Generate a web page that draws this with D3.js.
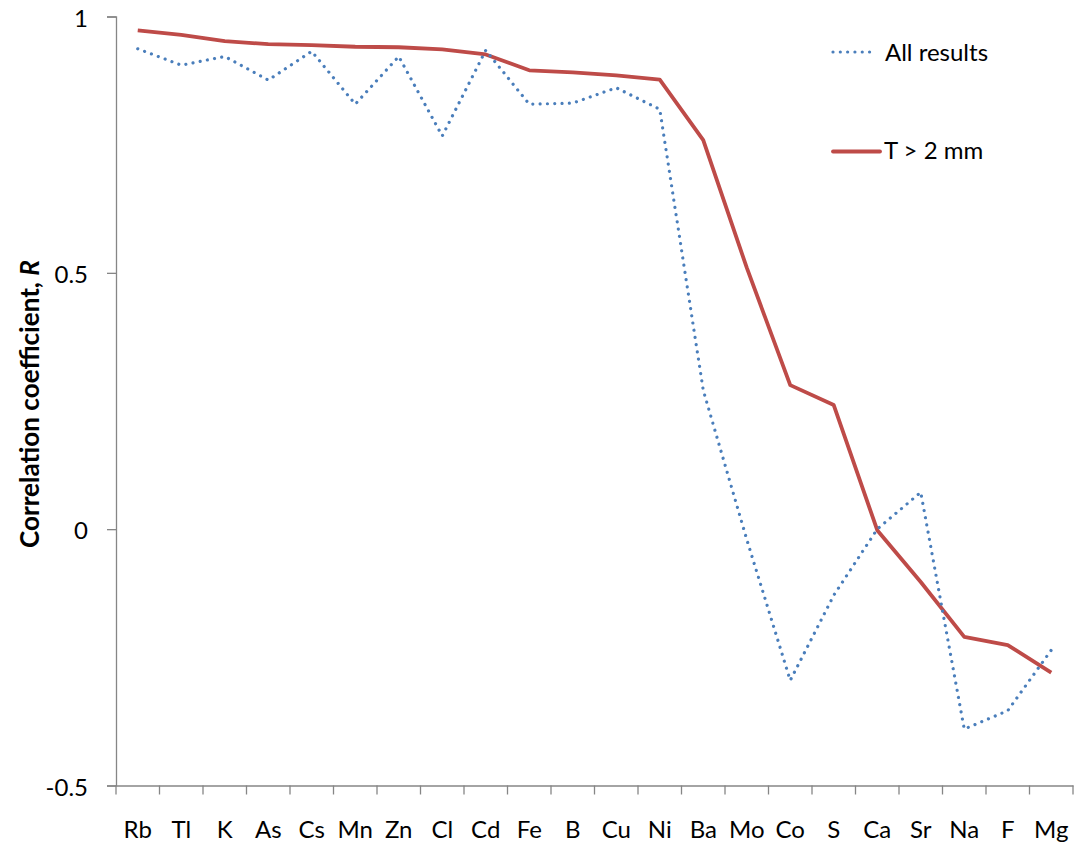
<!DOCTYPE html>
<html><head><meta charset="utf-8">
<script src="https://cdn.jsdelivr.net/npm/d3@7"></script>
<style>body{margin:0;background:#fff}svg{display:block}text{font-family:Lato,"Open Sans",sans-serif}</style>
</head><body><svg id="c" width="1074" height="849"></svg>
<script>
const categories = ["Rb","Tl","K","As","Cs","Mn","Zn","Cl","Cd","Fe","B","Cu","Ni","Ba","Mo","Co","S","Ca","Sr","Na","F","Mg"];
const allResults = [0.937,0.905,0.922,0.876,0.932,0.829,0.922,0.767,0.934,0.829,0.831,0.861,0.819,0.271,-0.02,-0.295,-0.129,0.0,0.072,-0.39,-0.354,-0.236];
const tGt2mm = [0.973,0.964,0.952,0.946,0.944,0.941,0.940,0.936,0.926,0.895,0.891,0.885,0.877,0.759,0.51,0.281,0.242,-0.002,-0.103,-0.21,-0.226,-0.28];
const yTicks = [-0.5,0,0.5,1];
const seriesNames = ["All results","T > 2 mm"];

const svg = d3.select("#c");
const x = d3.scaleBand().domain(categories).range([116,1073]);
const y = d3.scaleLinear().domain([-0.5,1]).range([785.5,16.5]);
const axisColor = "#868686";
const fs = 24;

// y axis
const gy = svg.append("g").attr("transform","translate(116,0)")
  .call(d3.axisLeft(y).tickValues(yTicks).tickSize(9).tickPadding(19).tickFormat(d=>String(d)));
gy.select(".domain").attr("stroke",axisColor).attr("stroke-width",1.3);
gy.selectAll(".tick line").attr("stroke",axisColor).attr("stroke-width",1.3);
gy.selectAll(".tick text").attr("font-size",fs).attr("fill","#000").attr("font-family","Lato").attr("dy","0.4em");

// x axis
const gx = svg.append("g").attr("transform","translate(0,785.5)")
  .call(d3.axisBottom(x).tickSize(0).tickPadding(35.5));
gx.select(".domain").attr("stroke",axisColor).attr("stroke-width",1.3);
gx.selectAll(".tick text").attr("font-size",fs).attr("fill","#000").attr("font-family","Lato");
// tick marks at band boundaries
const edges = categories.map(c=>x(c)).concat([x.range()[1]]);
svg.append("g").selectAll("line").data(edges).join("line")
  .attr("x1",d=>d).attr("x2",d=>d).attr("y1",785.5).attr("y2",794.5)
  .attr("stroke",axisColor).attr("stroke-width",1.3);

const line = d3.line().x((d,i)=>x(categories[i])+x.bandwidth()/2).y(d=>y(d));

svg.append("path").datum(tGt2mm).attr("d",line).attr("fill","none")
  .attr("stroke","#be4b48").attr("stroke-width",3.8).attr("stroke-linejoin","round");
svg.append("path").datum(allResults).attr("d",line).attr("fill","none")
  .attr("stroke","#4a7ebb").attr("stroke-width",3.2).attr("stroke-linecap","round")
  .attr("stroke-dasharray","0.01 7.3");

// y title
const title = svg.append("text").attr("transform","translate(39,404) rotate(-90)")
  .attr("text-anchor","middle").attr("font-size",24).attr("font-weight","bold")
  .html('Correlation coefficient, <tspan font-style="italic">R</tspan>');
const tl = title.node().getComputedTextLength();
if (tl > 0) title.attr("font-size", 24 * 288 / tl);

// legend
const lg = svg.append("g");
lg.append("line").attr("x1",833).attr("x2",875).attr("y1",52).attr("y2",52)
  .attr("stroke","#4a7ebb").attr("stroke-width",3.2).attr("stroke-linecap","round").attr("stroke-dasharray","0.01 7.3");
lg.append("text").attr("x",885).attr("y",60.7).attr("font-size",fs).text(seriesNames[0]);
lg.append("line").attr("x1",833).attr("x2",880).attr("y1",151.5).attr("y2",151.5)
  .attr("stroke","#be4b48").attr("stroke-width",3.8).attr("stroke-linecap","round");
lg.append("text").attr("x",884).attr("y",159).attr("font-size",fs).text(seriesNames[1]);
</script></body></html>
